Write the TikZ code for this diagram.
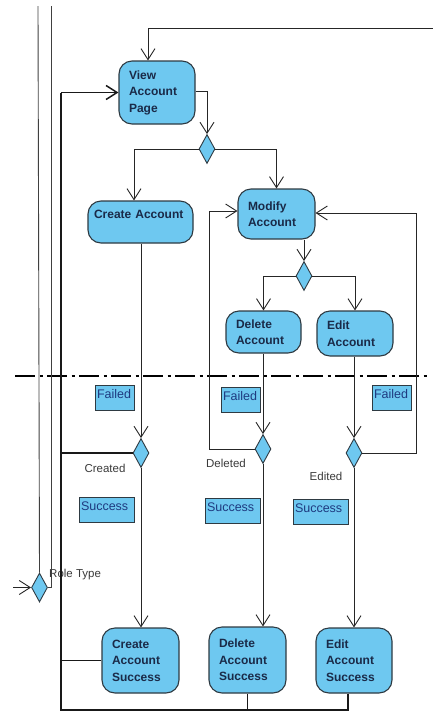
\documentclass[tikz,border=0pt]{standalone}
\usepackage{fontspec}
\setmainfont{Liberation Sans}
\usetikzlibrary{arrows.meta,shapes.geometric,calc}
\definecolor{actfill}{HTML}{6EC8F0}
\definecolor{edge}{HTML}{2E3A42}
\definecolor{acttext}{HTML}{1A2A48}
\definecolor{pintext}{HTML}{1E3A80}
\definecolor{guard}{HTML}{3A3A3A}
\begin{document}
\begin{tikzpicture}[x=1pt,y=-1pt,
  act/.style={draw=edge, line width=1.1pt, fill=actfill, rounded corners=13pt,
    inner xsep=10pt, inner ysep=2pt, align=left, text=acttext,
    font=\bfseries\fontsize{12}{16.5}\selectfont},
  pinbox/.style={draw=edge, line width=0.9pt, fill=actfill, inner xsep=2pt,
    inner ysep=0pt, align=left, text=pintext, minimum height=25pt,
    text height=8.5pt, text depth=7pt, font=\fontsize{12.5}{14}\selectfont},
  choice/.style={diamond, draw=edge, line width=0.9pt, fill=actfill,
    minimum width=16pt, minimum height=29pt, inner sep=0pt},
  lbl/.style={inner sep=0pt, text=guard, font=\fontsize{11.5}{13}\selectfont},
  flow/.style={draw=black!85, line width=0.9pt},
  arr/.style={flow, -{Straight Barb[length=11pt,width=14pt]}},
  trunk/.style={draw=black!90, line width=1.2pt},
  swim/.style={draw=black!75, line width=0.9pt}]
\useasboundingbox (0,0) rectangle (433,713);

% activities
\node[act, text width=56pt, minimum height=63pt] (view) at (157,92.5) {View\\Account\\Page};
\node[act, inner xsep=6pt, text width=93pt, minimum height=42pt, text depth=16pt] (create) at (140.5,222) {Create Account};
\node[act, text width=57pt, minimum height=50pt] (modify) at (276.5,214) {Modify\\Account};
\node[act, text width=55pt, minimum height=42pt] (delete) at (263.5,332) {Delete\\Account};
\node[act, text width=56pt, minimum height=45pt] (edit) at (355,333.5) {Edit\\Account};
\node[act, text width=57pt, minimum height=65pt] (cas) at (140.5,660.5) {Create\\Account\\Success};
\node[act, text width=57pt, minimum height=66pt] (das) at (247.5,660) {Delete\\Account\\Success};
\node[act, text width=56pt, minimum height=65pt] (eas) at (354,660.5) {Edit\\Account\\Success};

% decisions
\node[choice] (d1) at (207,149) {};
\node[choice] (d2) at (304,276) {};
\node[choice] (dc) at (141,453) {};
\node[choice] (dd) at (263,449) {};
\node[choice] (de) at (354,453) {};
\node[choice] (rt) at (39.5,587.5) {};

% pins
\node[pinbox, text width=35pt] (fail1) at (114.5,397.5) {Failed};
\node[pinbox, text width=35pt] (fail2) at (240.5,400) {Failed};
\node[pinbox, text width=35pt] (fail3) at (391.5,397.5) {Failed};
\node[pinbox, text width=51pt] (succ1) at (106.5,509.5) {Success};
\node[pinbox, text width=51pt] (succ2) at (232.5,510.5) {Success};
\node[pinbox, text width=51pt] (succ3) at (320.5,511.5) {Success};

% guards
\node[lbl] (lc) at (105,468) {Created};
\node[lbl] (ld) at (226,463) {Deleted};
\node[lbl] (le) at (326,476) {Edited};
\node[lbl, anchor=west] (lr) at (49,575) {Role Type};

% free ends
\coordinate (topR) at (433,28);
\coordinate (l1) at (38,6);
\coordinate (l2) at (51,6);
\coordinate (inRT) at (13,587.5);
\coordinate (trunkTop) at (61,92.5);
\coordinate (trunkBot) at (61,710);
\coordinate (ddLoop) at (209,211);
\coordinate (deLoop) at (416,213);
\coordinate (dashL) at (15,376);
\coordinate (dashR) at (430,376);

% partition
\draw[line width=2pt, dash pattern=on 20pt off 4.5pt on 3pt off 4.5pt] (dashL) -- (dashR);

% flows
\draw[arr] (topR) -| ([xshift=-9pt]view.north);
\draw[arr] ([yshift=1.5pt]view.east) -| (d1.north);
\draw[arr] (d1.west) -| ([xshift=-6.5pt]create.north);
\draw[arr] (d1.east) -| (modify.north);
\draw[arr] (modify.south -| d2.north) -- (d2.north);
\draw[arr] (d2.west) -| (delete.north);
\draw[arr] (d2.east) -| (edit.north);
\draw[arr] (create.south -| dc.north) -- (dc.north);
\draw[arr] (delete.south -| dd.north) -- (dd.north);
\draw[arr] (edit.south -| de.north) -- (de.north);
\draw[arr] (dc.south) -- (cas.north -| dc.south);
\draw[arr] (dd.south) -- (das.north -| dd.south);
\draw[arr] (de.south) -- (eas.north -| de.south);
\draw[arr] (dd.west) -| (ddLoop) -- (ddLoop -| modify.west);
\draw[arr] (de.east) -| (deLoop) -- (deLoop -| modify.east);

% return path to the account page
\draw[trunk] (dc.west) -- (dc.west -| trunkTop);
\draw[trunk] (cas.west) -- (cas.west -| trunkTop);
\draw[trunk] (das.south) -- (das.south |- trunkBot);
\draw[trunk] ([xshift=-6pt]eas.south) |- (trunkBot) -- (trunkTop);
\draw[trunk, line width=1.5pt, -{Straight Barb[length=11pt,width=14pt]}] (trunkTop) -- (view.west);

% role type
\draw[swim] (l1) -- (rt.north);
\draw[swim] (l2) |- (rt.east);
\draw[arr] (inRT) -- (rt.west);
\end{tikzpicture}
\end{document}
